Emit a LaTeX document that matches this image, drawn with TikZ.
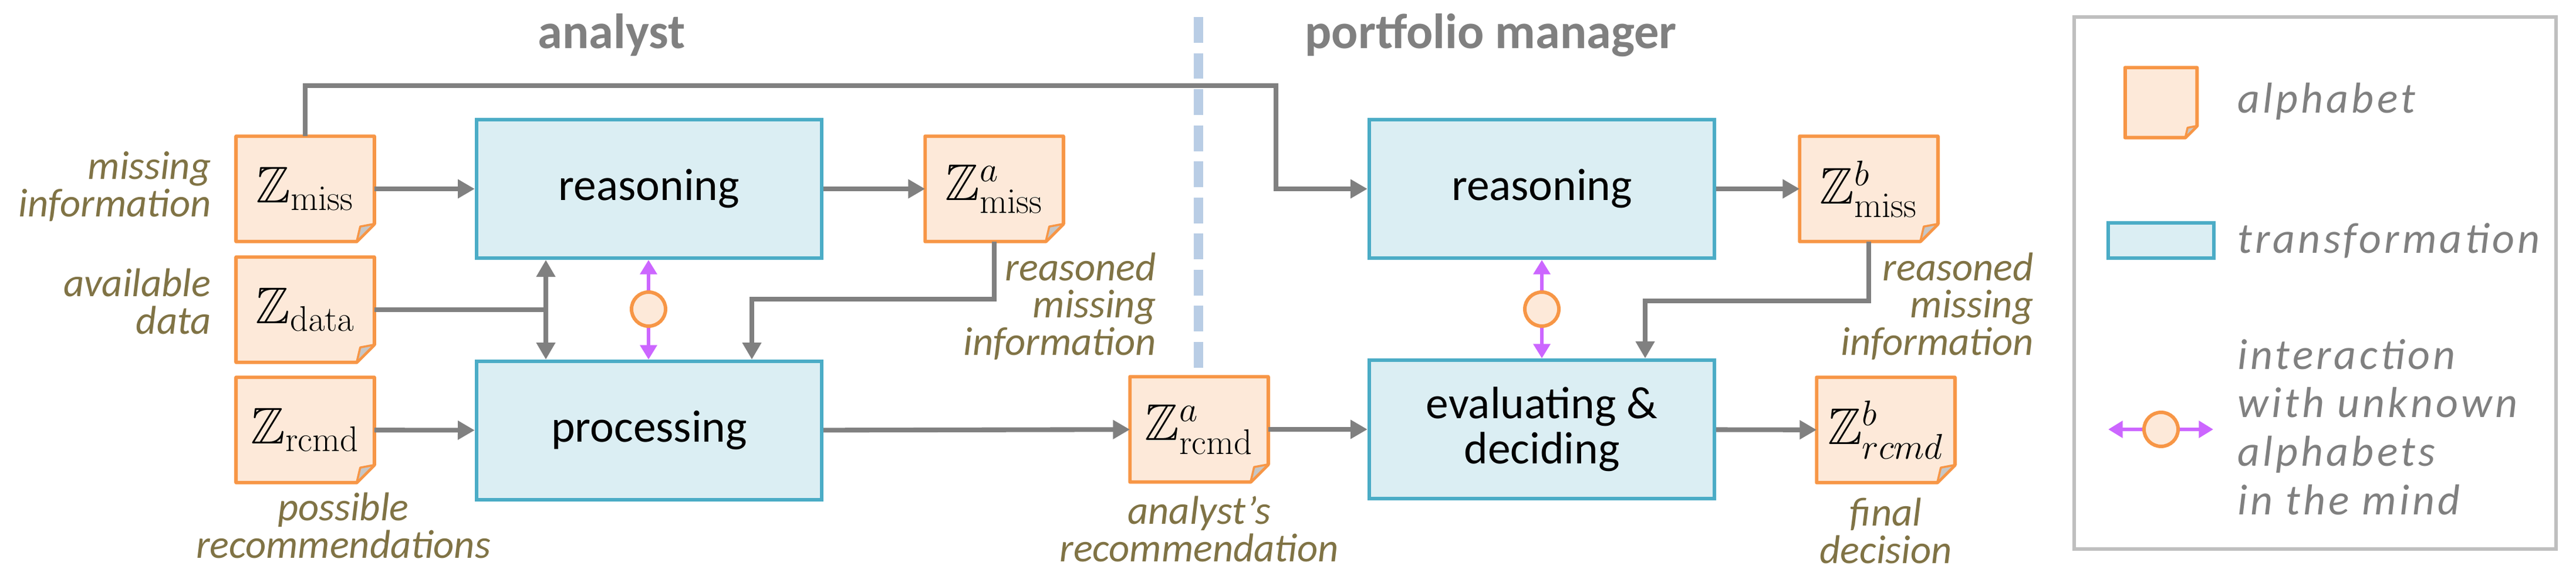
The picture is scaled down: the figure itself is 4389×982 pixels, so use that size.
\documentclass[tikz,border=0pt]{standalone}
\usepackage{amssymb}
\usepackage[no-math]{fontspec}
\setmainfont{Carlito}
\newfontfamily\legfont{Carlito}[LetterSpace=7]
\usetikzlibrary{arrows.meta,calc,backgrounds}
\definecolor{docfill}{HTML}{FDE9D9}
\definecolor{docline}{HTML}{F79646}
\definecolor{boxfill}{HTML}{DBEEF3}
\definecolor{boxline}{HTML}{4BACC6}
\definecolor{arrgray}{HTML}{808080}
\definecolor{pink}{HTML}{CC66FF}
\definecolor{olive}{HTML}{807345}
\definecolor{dashblue}{HTML}{B9CDE5}
\definecolor{legline}{HTML}{BFBFBF}
\begin{document}
\begin{tikzpicture}[x=0.01cm,y=-0.01cm,
  doc/.style={minimum width=2.34cm,minimum height=1.78cm,inner sep=0pt,font=\fontsize{25}{27}\selectfont},
  box/.style={draw=boxline,fill=boxfill,line width=1.7pt,minimum width=5.88cm,minimum height=2.36cm,align=center,font=\fontsize{22}{22}\selectfont},
  lab/.style={text=olive,font=\fontsize{19.5}{18}\selectfont\itshape},
  leg/.style={text=arrgray,font=\fontsize{21}{23.5}\selectfont\legfont\itshape,anchor=west,align=left},
  arr/.style={draw=arrgray,line width=2.3pt,-{Triangle[length=8.2pt,width=8.8pt]}},
  ln/.style={draw=arrgray,line width=2.3pt},
  parr/.style={draw=pink,line width=1.7pt,-{Triangle[length=7pt,width=8pt]}},
  mind/.style={circle,draw=docline,fill=docfill,line width=1.7pt,minimum size=0.58cm,inner sep=0pt},
  title/.style={text=arrgray,font=\fontsize{24}{26}\selectfont\bfseries}]
\useasboundingbox (0,0) rectangle (4389,982);
% titles
\node[title] (t1) at (1042,60) {analyst};
\node[title] (t2) at (2540,60) {portfolio manager};
\draw[dashblue,line width=4.5pt,dash pattern=on 12.5pt off 5pt] (2042,29) coordinate (d1) -- (2042,632) coordinate (d2);
% boxes
\node[box] (ar) at (1106,322) {reasoning};
\node[box] (ap) at (1106,734) {processing};
\node[box] (pr) at (2627,322) {reasoning};
\node[box] (pe) at (2627,732) {evaluating \&\\deciding};
% docs
\node[doc] (zmiss) at (520,322) {$\mathbb{Z}_{\mathrm{miss}}$};
\node[doc] (zdata) at (520,528) {$\mathbb{Z}_{\mathrm{data}}$};
\node[doc] (zrcmd) at (520,733) {$\mathbb{Z}_{\mathrm{rcmd}}$};
\node[doc] (zmissa) at (1694,322) {$\mathbb{Z}^a_{\mathrm{miss}}$};
\node[doc] (zrcmda) at (2043,732) {$\mathbb{Z}^a_{\mathrm{rcmd}}$};
\node[doc] (zmissb) at (3184,322) {$\mathbb{Z}^b_{\mathrm{miss}}$};
\node[doc] (zrcmdb) at (3213,733) {$\mathbb{Z}^b_{rcmd}$};
% legend
\draw[legline,line width=1.7pt] (3534,29) rectangle (4355,936);
\node[doc,minimum width=1.21cm,minimum height=1.18cm] (ldoc) at (3682,175) {};
\node[box,minimum width=1.79cm,minimum height=0.6cm] (lbox) at (3682,410) {};
\node[mind] (lc) at (3682,732) {};
\coordinate (ll) at (3592,732);
\coordinate (lr) at (3771,732);
\draw[parr] (lc) -- (ll);
\draw[parr] (lc) -- (lr);
\node[leg] (la) at (3800,173) {alphabet};
\node[leg] (lt) at (3800,410) {transformation};
\node[leg] (li) at (3800,728) {interaction\\with unknown\\alphabets\\in the mind};
\begin{scope}[on background layer]
\foreach \n/\c in {zmiss/0.3,zdata/0.3,zrcmd/0.3,zmissa/0.3,zrcmda/0.3,zmissb/0.3,zrcmdb/0.3,ldoc/0.2}{
  \draw[docline,fill=docfill,line width=1.7pt,line join=round] (\n.north west) -- (\n.north east) -- ($(\n.south east)+(0,\c cm)$) -- ($(\n.south east)+(-\c cm,0)$) -- (\n.south west) -- cycle;
  \draw[docline,fill=gray!45,line width=1pt,line join=round] ($(\n.south east)+(-\c cm,0)$) -- ($(\n.south east)+(-0.8*\c cm,0.85*\c cm)$) -- ($(\n.south east)+(0,\c cm)$) -- cycle;
}
\end{scope}
% labels
\node[lab,align=right,anchor=east] (l1) at (372,318) {missing\\information};
\node[lab,align=right,anchor=east] (l2) at (372,514) {available\\data};
\node[lab,align=center] (l3) at (585,896) {possible\\recommendations};
\node[lab,align=right,anchor=east] (l4) at (1982,522) {reasoned\\missing\\information};
\node[lab,align=right,anchor=east] (l5) at (3477,522) {reasoned\\missing\\information};
\node[lab,align=center] (l6) at (2043,902) {analyst’s\\recommendation};
\node[lab,align=center] (l7) at (3213,905) {final\\decision};
% connectors
\coordinate (top1) at (520,146);
\coordinate (top2) at (2174,146);
\coordinate (top3) at (2174,322);
\draw[arr] (zmiss.north) -- (top1) -- (top2) -- (top3) -- (pr.west);
\draw[arr] (zmiss) -- (ar);
\draw[arr] (ar) -- (zmissa);
\coordinate (j1) at (930,528);
\draw[ln] (zdata.east) -- (j1);
\draw[arr,{Triangle[length=8.2pt,width=8.8pt]}-{Triangle[length=8.2pt,width=8.8pt]}] (j1 |- ar.south) -- (j1 |- ap.north);
\coordinate (k1) at (1281,510);
\draw[arr] (zmissa.south) |- (k1) -- (k1 |- ap.north);
\draw[arr] (zrcmd) -- (ap);
\draw[arr] (ap) -- (zrcmda);
\draw[arr] (zrcmda) -- (pe);
\draw[arr] (pr) -- (zmissb);
\draw[arr] (pe) -- (zrcmdb);
\coordinate (k2) at (2803,513);
\draw[arr] (zmissb.south) |- (k2) -- (k2 |- pe.north);
\node[mind] (c1) at (1105,527) {};
\node[mind] (c2) at (2627,527) {};
\draw[parr] (c1) -- (c1 |- ar.south);
\draw[parr] (c1) -- (c1 |- ap.north);
\draw[parr] (c2) -- (c2 |- pr.south);
\draw[parr] (c2) -- (c2 |- pe.north);
\end{tikzpicture}
\end{document}
